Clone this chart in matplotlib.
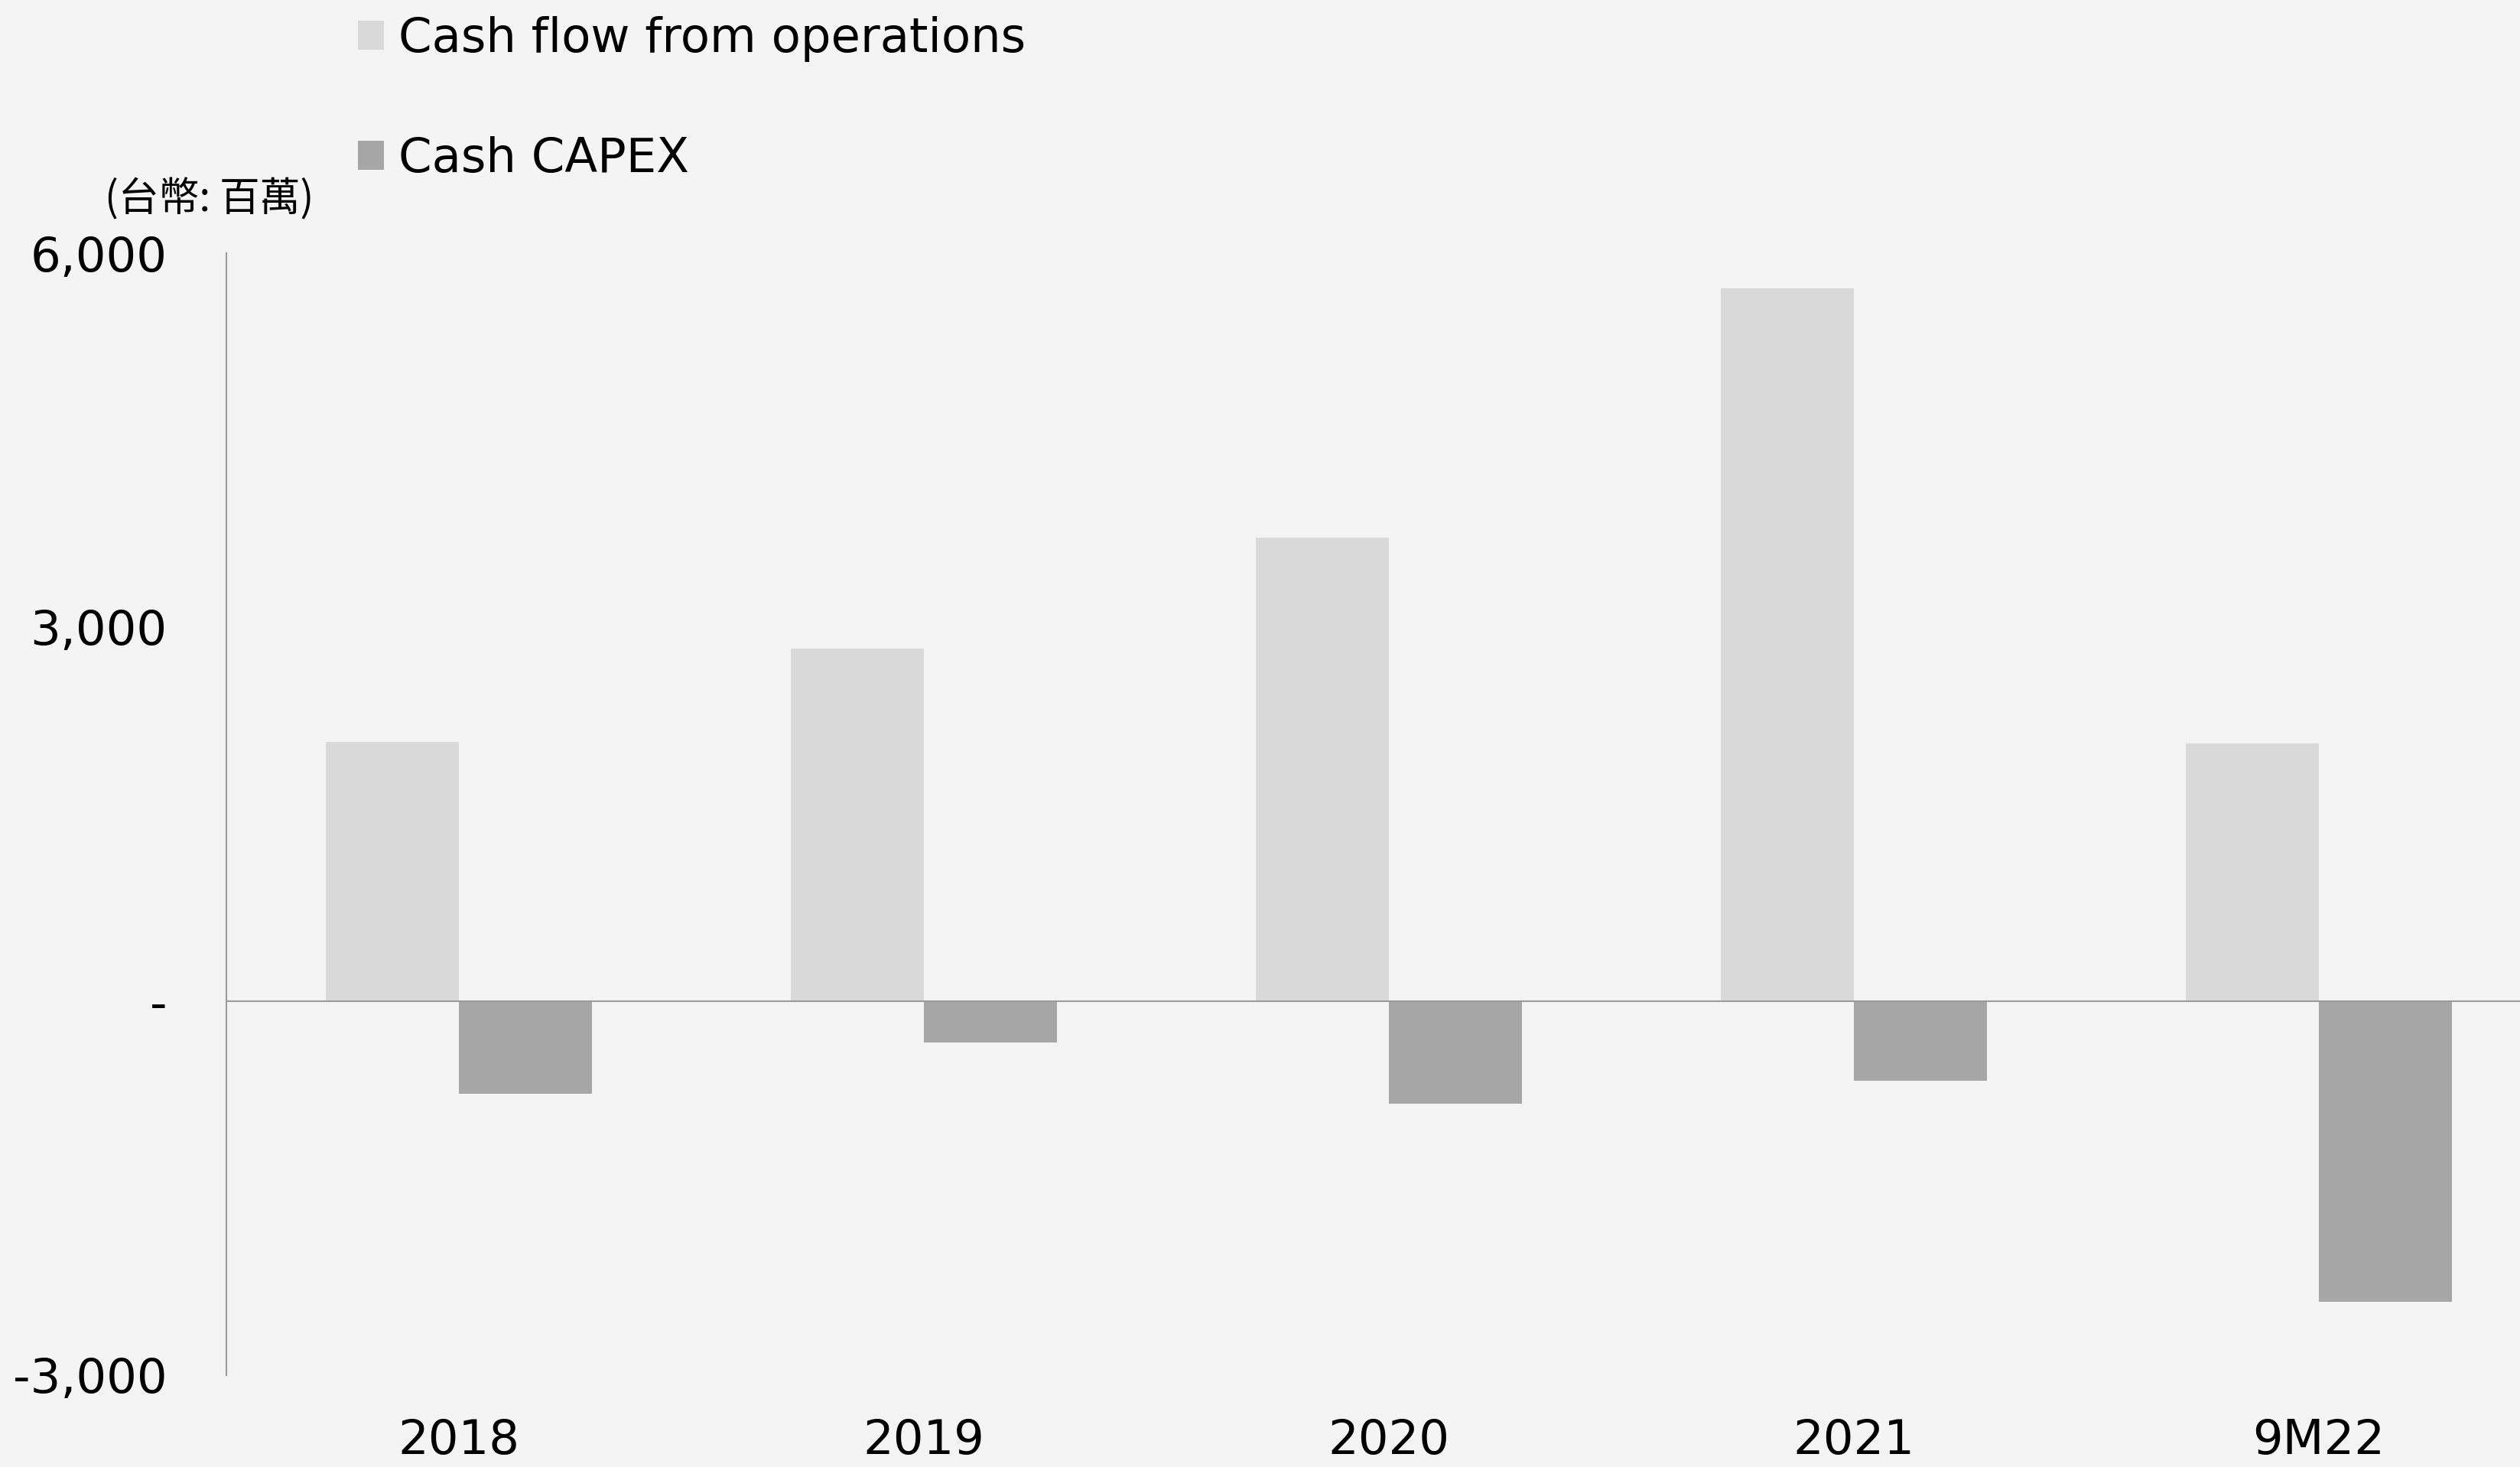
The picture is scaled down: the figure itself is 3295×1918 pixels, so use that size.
import matplotlib
matplotlib.use("Agg")
import matplotlib.pyplot as plt
import numpy as np

# Values in NT$ millions
periods = ["2018", "2019", "2020", "2021", "9M22"]
cash_from_ops = [2080, 2830, 3720, 5720, 2070]
cash_capex = [-740, -330, -825, -635, -2410]

series_names = ["Cash flow from operations", "Cash CAPEX"]
ytick_values = [-3000, 0, 3000, 6000]
ytick_labels = ["-3,000", "-", "3,000", "6,000"]
unit_label = "(台幣: 百萬)"

bg = "#f4f4f4"
c_ops = "#d9d9d9"
c_capex = "#a6a6a6"
line_gray = "#9a9a9a"

plt.rcParams["font.family"] = ["DejaVu Sans", "Noto Sans CJK TC"]

W, H = 3295, 1918
fig = plt.figure(figsize=(W / 100, H / 100), dpi=100, facecolor=bg)
ax = fig.add_axes([296 / W, 1 - 1798 / H, (3336 - 296) / W, (1798 - 331) / H])
ax.set_facecolor(bg)

x = np.arange(len(periods))
w = 0.286
b1 = ax.bar(x - w / 2, cash_from_ops, w, color=c_ops, label=series_names[0])
b2 = ax.bar(x + w / 2, cash_capex, w, color=c_capex, label=series_names[1])

ax.set_xlim(-0.5, len(periods) - 0.5)
ax.set_ylim(-3000, 6000)
ax.axhline(0, color=line_gray, lw=1.5, zorder=3)

for s in ["top", "right", "bottom"]:
    ax.spines[s].set_visible(False)
ax.spines["left"].set_color(line_gray)
ax.spines["left"].set_linewidth(1.5)

ax.set_yticks(ytick_values)
ax.set_yticklabels(ytick_labels)
ax.set_xticks(x)
ax.set_xticklabels(periods)
ax.tick_params(axis="y", length=0, pad=56, labelsize=45)
ax.tick_params(axis="x", length=0, pad=40, labelsize=45)

fig.text(137 / W, 1 - 261 / H, unit_label, fontsize=38, va="center", ha="left",
         family=["Noto Sans CJK TC", "DejaVu Sans"])

fig.legend(handles=[b1, b2], loc="upper left", bbox_to_anchor=(468 / W, 1 - 21 / H),
           frameon=False, fontsize=45, handlelength=0.55, handleheight=0.55,
           handletextpad=0.3, labelspacing=1.55, borderpad=0, borderaxespad=0)

fig.savefig("out.png", dpi=100, facecolor=bg)
